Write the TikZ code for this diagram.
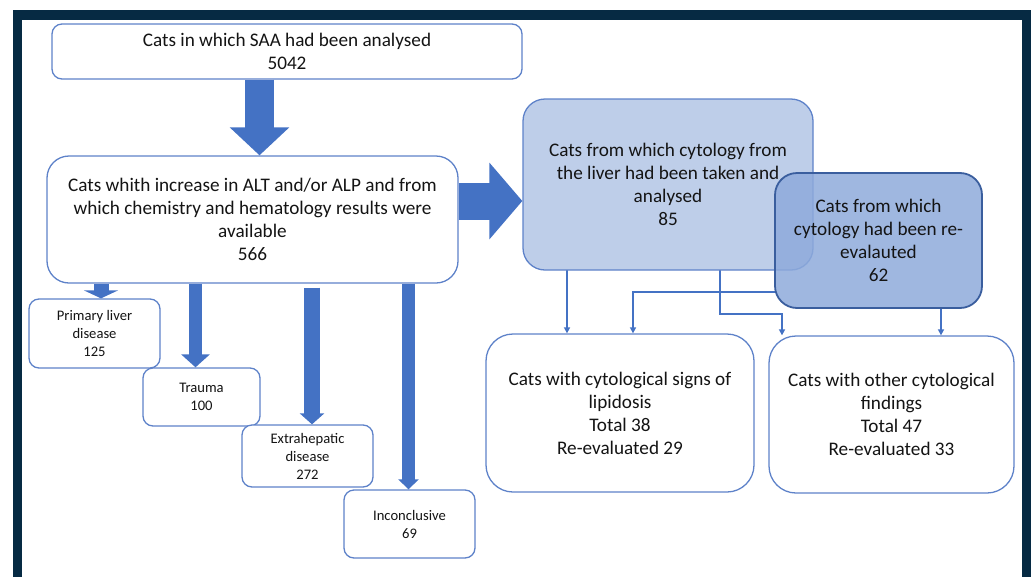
\documentclass[tikz,border=0pt]{standalone}
\usepackage{fontspec}
\setmainfont{Carlito}
\usetikzlibrary{arrows.meta}
\definecolor{framenavy}{HTML}{062A43}
\definecolor{officeblue}{HTML}{4472C4}
\definecolor{boxline}{HTML}{5E82C9}
\definecolor{lightfill}{HTML}{BECEE9}
\definecolor{midfill}{HTML}{8EAADB}
\definecolor{darkline}{HTML}{3A5E9E}

\begin{document}
\begin{tikzpicture}[x=1pt,y=-1pt,
  box/.style={rectangle,draw=boxline,line width=1.3pt,fill=white,inner sep=0pt,align=center,text=black!92,font=\fontsize{19.2}{23}\selectfont},
  smallbox/.style={box,rounded corners=10pt,font=\fontsize{14.6}{18}\selectfont},
  fat/.style={officeblue,line width=#1},
  conn/.style={officeblue,line width=2pt,-{Triangle[length=6pt,width=6pt]}}]
\useasboundingbox (0,0) rectangle (1033,576);
\draw[framenavy,line width=9.5pt] (17.5,590) -- (17.5,15) -- (1026.5,15) -- (1026.5,590);

\path (287,51.5) node[box,rounded corners=10pt,minimum width=470pt,minimum height=55pt] (saa){Cats in which SAA had been analysed\\5042};
\path (252.5,219.5) node[box,rounded corners=22pt,minimum width=411pt,minimum height=127pt] (alt){Cats whith increase in ALT and/or ALP and from\\which chemistry and hematology results were\\available\\566};

\path (94.5,333.5) node[smallbox,minimum width=131pt,minimum height=69pt] (primary){Primary liver\\disease\\125};
\path (201.5,397) node[smallbox,minimum width=117pt,minimum height=58pt] (trauma){Trauma\\100};
\path (307.5,456) node[smallbox,minimum width=131pt,minimum height=62pt] (extra){Extrahepatic\\disease\\272};
\path (409.5,524) node[smallbox,minimum width=131pt,minimum height=68pt] (incon){Inconclusive\\69};

\path (620,413) node[box,rounded corners=27pt,minimum width=268pt,minimum height=158pt] (lipid){Cats with cytological signs of\\lipidosis\\Total 38\\Re-evaluated 29};
\path (891.5,414.5) node[box,rounded corners=27pt,minimum width=245pt,minimum height=157pt] (other){Cats with other cytological\\findings\\Total 47\\Re-evaluated 33};

\draw[conn] ([xshift=-101pt]668,270) coordinate (c1) -- (c1 |- lipid.north);
\draw[conn] ([xshift=52pt]668,270) -- ++(0,44) -| ([xshift=-109.5pt]other.north);
\draw[conn] (941,308) coordinate (c4) -- (c4 |- other.north);
\draw[conn] (775,292) coordinate (c2) -| ([xshift=13pt]lipid.north);

\path (668,184.5) node[box,fill=lightfill,rounded corners=22pt,minimum width=290pt,minimum height=171pt] (cyto){Cats from which cytology from\\the liver had been taken and\\analysed\\85};
\path (878.5,240.5) node[box,draw=darkline,line width=1.8pt,fill=midfill,fill opacity=0.85,text opacity=1,rounded corners=22pt,minimum width=207pt,minimum height=135pt] (reeval){Cats from which\\cytology had been re-\\evalauted\\62};

\draw[fat=29pt,-{Triangle[length=28pt,width=58pt]}] ([xshift=-27.5pt]saa.south) -- ([xshift=7pt]alt.north);
\draw[fat=37pt,-{Triangle[length=33pt,width=75pt]}] ([yshift=18.5pt]alt.east) -- ([yshift=-16.5pt]cyto.west);
\draw[fat=15pt,-{Triangle[length=8pt,width=34pt]}] ([xshift=-151.5pt]alt.south) -- ([xshift=6.5pt]primary.north);
\draw[fat=13pt,-{Triangle[length=13pt,width=28pt]}] ([xshift=-57pt]alt.south) -- ([xshift=-6pt]trauma.north);
\draw[fat=16pt,-{Triangle[length=11pt,width=24pt]}] ([xshift=59.5pt,yshift=-4pt]alt.south) -- ([xshift=4.5pt]extra.north);
\draw[fat=13pt,-{Triangle[length=10pt,width=20pt]}] ([xshift=156pt]alt.south) -- ([xshift=-1pt]incon.north);
\end{tikzpicture}
\end{document}
